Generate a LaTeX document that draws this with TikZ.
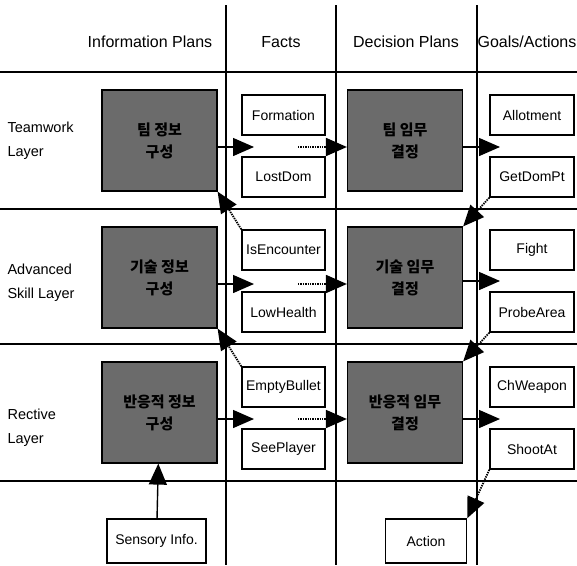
\documentclass[tikz,border=0pt]{standalone}
\usepackage{fontspec}
\setmainfont{Liberation Sans}
\newfontfamily\kor{Noto Sans CJK KR}
\usetikzlibrary{arrows.meta, positioning}

\tikzset{
    plan/.style={draw, fill=black!58, line width=1.2pt, minimum width=115pt, minimum height=101pt,
        align=center, font=\kor\bfseries\fontsize{15}{22}\selectfont},
    fact/.style={draw, fill=white, line width=1.5pt, minimum width=83pt, minimum height=40pt,
        inner sep=1pt, font=\fontsize{14}{16}\selectfont},
    head/.style={font=\fontsize{16}{18}\selectfont},
    layer/.style={anchor=west, align=left, font=\fontsize{14.5}{24}\selectfont},
    big/.style={-{Triangle[length=21pt, width=18pt]}, line width=1.4pt},
    bigdot/.style={big, densely dotted, line width=1.8pt},
    grid/.style={line width=2.2pt}
}

\begin{document}
\begin{tikzpicture}[x=1pt, y=-1pt]
        \useasboundingbox (0,0) rectangle (577,565);

        % table lines
        \draw[grid] (0,72) -- (577,72)
            (0,209) -- (577,209)
            (0,344) -- (577,344)
            (0,481) -- (577,481);
        \draw[grid] (226,5) -- (226,565)
            (336,5) -- (336,565)
            (477,5) -- (477,565);

        % column heads
        \node[head] (hinfo) at (150,42) {Information Plans};
        \node[head] (hfact) at (281,42) {Facts};
        \node[head] (hdec) at (406,42) {Decision Plans};
        \node[head] (hgoal) at (527,42) {Goals/Actions};

        % layers
        \node[layer] (team) at (4,141) {Teamwork\\Layer};
        \node[layer] (skill) at (4,283) {Advanced\\Skill Layer};
        \node[layer] (react) at (4,428) {Rective\\Layer};

        % plans
        \node[plan] (ip1) at (159.5,140.5) {팀 정보\\구성};
        \node[plan] (ip2) at (159.5,277.5) {기술 정보\\구성};
        \node[plan] (ip3) at (159.5,412.5) {반응적 정보\\구성};
        \node[plan] (dp1) at (405,140.5) {팀 임무\\결정};
        \node[plan] (dp2) at (405,277.5) {기술 임무\\결정};
        \node[plan] (dp3) at (405,412.5) {반응적 임무\\결정};

        % facts
        \node[fact] (form) at (283.5,115) {Formation};
        \node[fact] (lost) at (283.5,177) {LostDom};
        \node[fact] (isenc) at (283.5,250) {IsEncounter};
        \node[fact] (low) at (283.5,312) {LowHealth};
        \node[fact] (empty) at (283.5,387) {EmptyBullet};
        \node[fact] (see) at (283.5,449) {SeePlayer};

        % goals / actions
        \node[fact, minimum width=84pt] (allot) at (532,115) {Allotment};
        \node[fact, minimum width=84pt] (getdom) at (532,177) {GetDomPt};
        \node[fact, minimum width=84pt] (fight) at (532,250) {Fight};
        \node[fact, minimum width=84pt] (probe) at (532,312) {ProbeArea};
        \node[fact, minimum width=84pt] (chw) at (532,387) {ChWeapon};
        \node[fact, minimum width=84pt] (shoot) at (532,449) {ShootAt};

        % in and out
        \node[fact, minimum width=99pt, minimum height=44pt] (sens) at (156.5,541) {Sensory Info.};
        \node[fact, minimum width=81pt, minimum height=44pt] (act) at (426,541) {Action};

        % free ends
        \coordinate (f1) at (254,147);
        \coordinate (f2) at (254,284);
        \coordinate (f3) at (254,419);
        \coordinate (d1) at (298,147);
        \coordinate (d2) at (298,284);
        \coordinate (d3) at (298,419);
        \coordinate (g1) at (500,147);
        \coordinate (g2) at (500,281);
        \coordinate (g3) at (500,419);

        \draw[big] (ip1.east |- f1) -- (f1);
        \draw[big] (ip2.east |- f2) -- (f2);
        \draw[big] (ip3.east |- f3) -- (f3);
        \draw[bigdot] (d1) -- (dp1.west |- d1);
        \draw[bigdot] (d2) -- (dp2.west |- d2);
        \draw[bigdot] (d3) -- (dp3.west |- d3);
        \draw[big] (dp1.east |- g1) -- (g1);
        \draw[big] (dp2.east |- g2) -- (g2);
        \draw[big] (dp3.east |- g3) -- (g3);

        \draw[bigdot] (isenc.north west) -- (ip1.south east);
        \draw[bigdot] (empty.north west) -- (ip2.south east);
        \draw[bigdot] (getdom.south west) -- (dp2.north east);
        \draw[bigdot] (probe.south west) -- (dp3.north east);
        \draw[bigdot] (shoot.south west) -- (act.north east);
        \draw[big] (sens) -- (ip3);
    \end{tikzpicture}
\end{document}
